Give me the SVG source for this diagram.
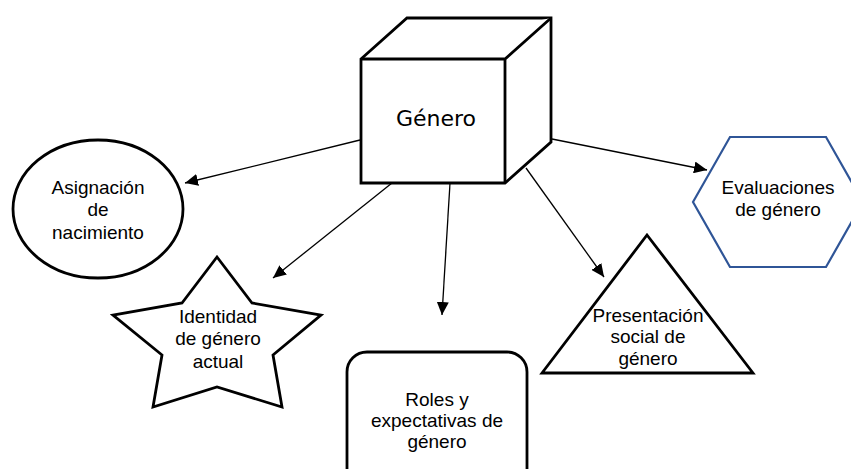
<svg xmlns="http://www.w3.org/2000/svg" width="851" height="469" viewBox="0 0 851 469">
  <style>
    .shape { fill: #ffffff; stroke: #000000; stroke-width: 2.8; stroke-linejoin: miter; }
    .hex { fill: #ffffff; stroke: #2F5597; stroke-width: 2.2; }
    .lbl { font-family: "Liberation Sans", Arial, sans-serif; font-size: 19px; fill: #000000; text-anchor: middle; }
    .title { font-family: "DejaVu Sans", Verdana, sans-serif; font-size: 22px; fill: #000000; text-anchor: middle; }
    .conn { stroke: #000000; stroke-width: 1.3; fill: none; marker-end: url(#arrow); }
  </style>
  <defs>
    <marker id="arrow" markerUnits="userSpaceOnUse" markerWidth="14" markerHeight="12" refX="13" refY="6" orient="auto">
      <path d="M0,0 L13,6 L0,12 z" fill="#000000"/>
    </marker>
  </defs>
  <rect width="851" height="469" fill="#ffffff"/>

  <g id="connectors">
    <line class="conn" x1="360" y1="140" x2="185" y2="183"/>
    <line class="conn" x1="392" y1="183" x2="273" y2="278"/>
    <line class="conn" x1="450" y1="183" x2="442" y2="315"/>
    <line class="conn" x1="526" y1="168" x2="604" y2="277"/>
    <line class="conn" x1="552" y1="139" x2="707" y2="170"/>
  </g>

  <g id="genero">
    <path class="shape" d="M361,59 L407,18 L551,18 L551,142 L505,183 L361,183 Z"/>
    <path class="shape" d="M361,59 L505,59 L551,18 M505,59 L505,183" fill="none"/>
    <text class="title" x="436" y="126">Género</text>
  </g>

  <g id="asignacion">
    <ellipse class="shape" cx="98" cy="209" rx="85" ry="69"/>
    <text class="lbl" x="98" y="194">Asignación</text>
    <text class="lbl" x="98" y="216">de</text>
    <text class="lbl" x="98" y="239">nacimiento</text>
  </g>

  <g id="identidad">
    <polygon class="shape" points="217,257 252,303 321,315 273,355 282,407 217,387 153,407 162,355 113,315 182,303"/>
    <text class="lbl" x="218" y="323">Identidad</text>
    <text class="lbl" x="218" y="345">de género</text>
    <text class="lbl" x="218" y="368">actual</text>
  </g>

  <g id="roles">
    <rect class="shape" x="347" y="352" width="180" height="140" rx="20" ry="20"/>
    <text class="lbl" x="437" y="406">Roles y</text>
    <text class="lbl" x="437" y="427">expectativas de</text>
    <text class="lbl" x="437" y="448">género</text>
  </g>

  <g id="presentacion">
    <polygon class="shape" points="647,235 753,373 542,373"/>
    <text class="lbl" x="648" y="322">Presentación</text>
    <text class="lbl" x="648" y="343">social de</text>
    <text class="lbl" x="648" y="365">género</text>
  </g>

  <g id="evaluaciones">
    <polygon class="hex" points="693,202 730,137 826,137 863,202 826,267 730,267"/>
    <text class="lbl" x="778" y="194">Evaluaciones</text>
    <text class="lbl" x="778" y="216">de género</text>
  </g>
</svg>
